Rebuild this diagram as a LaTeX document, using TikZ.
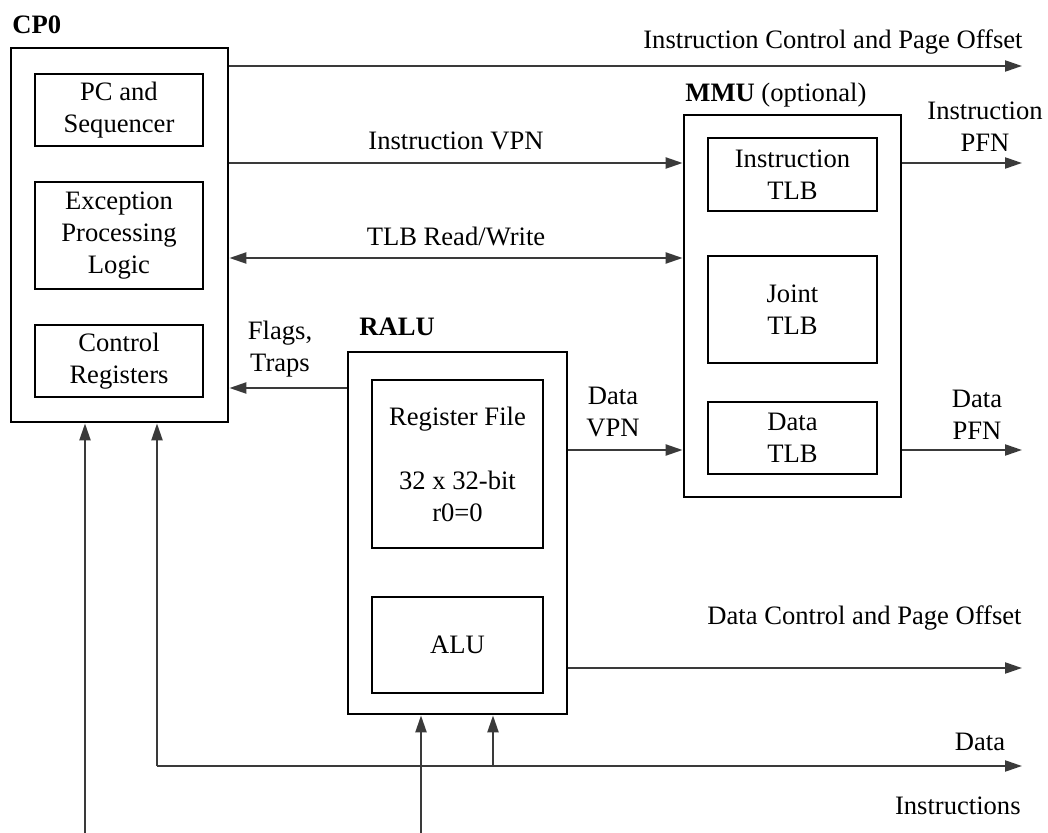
\documentclass[tikz,border=0pt]{standalone}
\usepackage{fontspec}
\setmainfont{LiberationSerif}[Extension=.ttf, UprightFont=*-Regular, BoldFont=*-Bold, ItalicFont=*-Italic, BoldItalicFont=*-BoldItalic]
\usetikzlibrary{arrows.meta}
\definecolor{wire}{HTML}{3A3A3A}
\begin{document}
\begin{tikzpicture}[x=0.5pt,y=-0.5pt,
  every node/.style={font=\fontsize{13.3}{16}\selectfont, align=center, inner sep=0pt},
  unit/.style={draw=black, line width=1.4pt, rectangle},
  part/.style={draw=black, line width=0.7pt, rectangle},
  lbl/.style={font=\fontsize{13.3}{16}\selectfont\bfseries},
  arr/.style={draw=wire, line width=1.1pt, -{Triangle[length=8.5pt,width=5.5pt]}},
  arrboth/.style={draw=wire, line width=1.1pt, {Triangle[length=8.5pt,width=5.5pt]}-{Triangle[length=8.5pt,width=5.5pt]}}]
\useasboundingbox (0,0) rectangle (1048,833);

% CP0
\node[unit, minimum width=108.5pt, minimum height=187pt] (cp0) at (119.5,235) {};
\node[part, minimum width=84pt, minimum height=36pt] (pc) at (119,110) {PC and\\Sequencer};
\node[part, minimum width=84pt, minimum height=53.5pt] (exc) at (119,235.5) {Exception\\Processing\\Logic};
\node[part, minimum width=84pt, minimum height=36pt] (creg) at (119,361) {Control\\Registers};
\node[lbl, anchor=west] (cp0lbl) at (12,25) {CP0};

% RALU
\node[unit, minimum width=109.5pt, minimum height=181pt] (ralu) at (457.5,533) {};
\node[part, minimum width=85.5pt, minimum height=84pt] (regf) at (457.5,464) {Register File\\ \\32 x 32-bit\\r0=0};
\node[part, minimum width=85.5pt, minimum height=48pt] (alu) at (457.5,645) {ALU};
\node[lbl, anchor=west] (ralulbl) at (359,327) {RALU};

% MMU
\node[unit, minimum width=108.5pt, minimum height=191pt] (mmu) at (792.5,306) {};
\node[part, minimum width=84.5pt, minimum height=36.5pt] (itlb) at (792.5,174.5) {Instruction\\TLB};
\node[part, minimum width=84.5pt, minimum height=53.5pt] (jtlb) at (792.5,309.5) {Joint\\TLB};
\node[part, minimum width=84.5pt, minimum height=36pt] (dtlb) at (792.5,438) {Data\\TLB};
\node[anchor=west] (mmulbl) at (685,95) {\textbf{MMU} (optional)};

% signal rows and free ends
\coordinate (r2) at (0,163);
\coordinate (r3) at (0,258);
\coordinate (r4) at (0,388);
\coordinate (r5) at (0,450);
\coordinate (e1) at (1022,66);
\coordinate (e2) at (1022,163);
\coordinate (e5) at (1022,450);
\coordinate (e6) at (1022,668);
\coordinate (e7) at (1022,766);
\coordinate (dbus) at (157,766);
\coordinate (dtap) at (493,766);
\coordinate (ib1) at (85,833);
\coordinate (ib2) at (421,833);

% connectors
\draw[arr] (cp0.east |- e1) -- (e1);
\draw[arr] (cp0.east |- r2) -- (mmu.west |- r2);
\draw[arrboth] (cp0.east |- r3) -- (mmu.west |- r3);
\draw[arr] (ralu.west |- r4) -- (cp0.east |- r4);
\draw[arr] (ralu.east |- r5) -- (mmu.west |- r5);
\draw[arr] (mmu.east |- e2) -- (e2);
\draw[arr] (mmu.east |- e5) -- (e5);
\draw[arr] (ralu.east |- e6) -- (e6);
\draw[arr] (dbus) -- (e7);
\draw[arr] (dbus) -- (cp0.south -| dbus);
\draw[arr] (dtap) -- (ralu.south -| dtap);
\draw[arr] (ib1) -- (cp0.south -| ib1);
\draw[arr] (ib2) -- (ralu.south -| ib2);

% connector labels
\node[anchor=east] (tictl) at (1023,42) {Instruction Control and Page Offset};
\node (tivpn) at (456,141) {Instruction VPN};
\node (ttlb) at (456,236) {TLB Read/Write};
\node (tflags) at (280,349) {Flags,\\Traps};
\node (tdvpn) at (613,412) {Data\\VPN};
\node (tipfn) at (985,127) {Instruction\\PFN};
\node (tdpfn) at (977,415) {Data\\PFN};
\node[anchor=east] (tdctl) at (1022,618) {Data Control and Page Offset};
\node (tdata) at (980,742) {Data};
\node[anchor=east] (tinstr) at (1021,806) {Instructions};
\end{tikzpicture}
\end{document}
